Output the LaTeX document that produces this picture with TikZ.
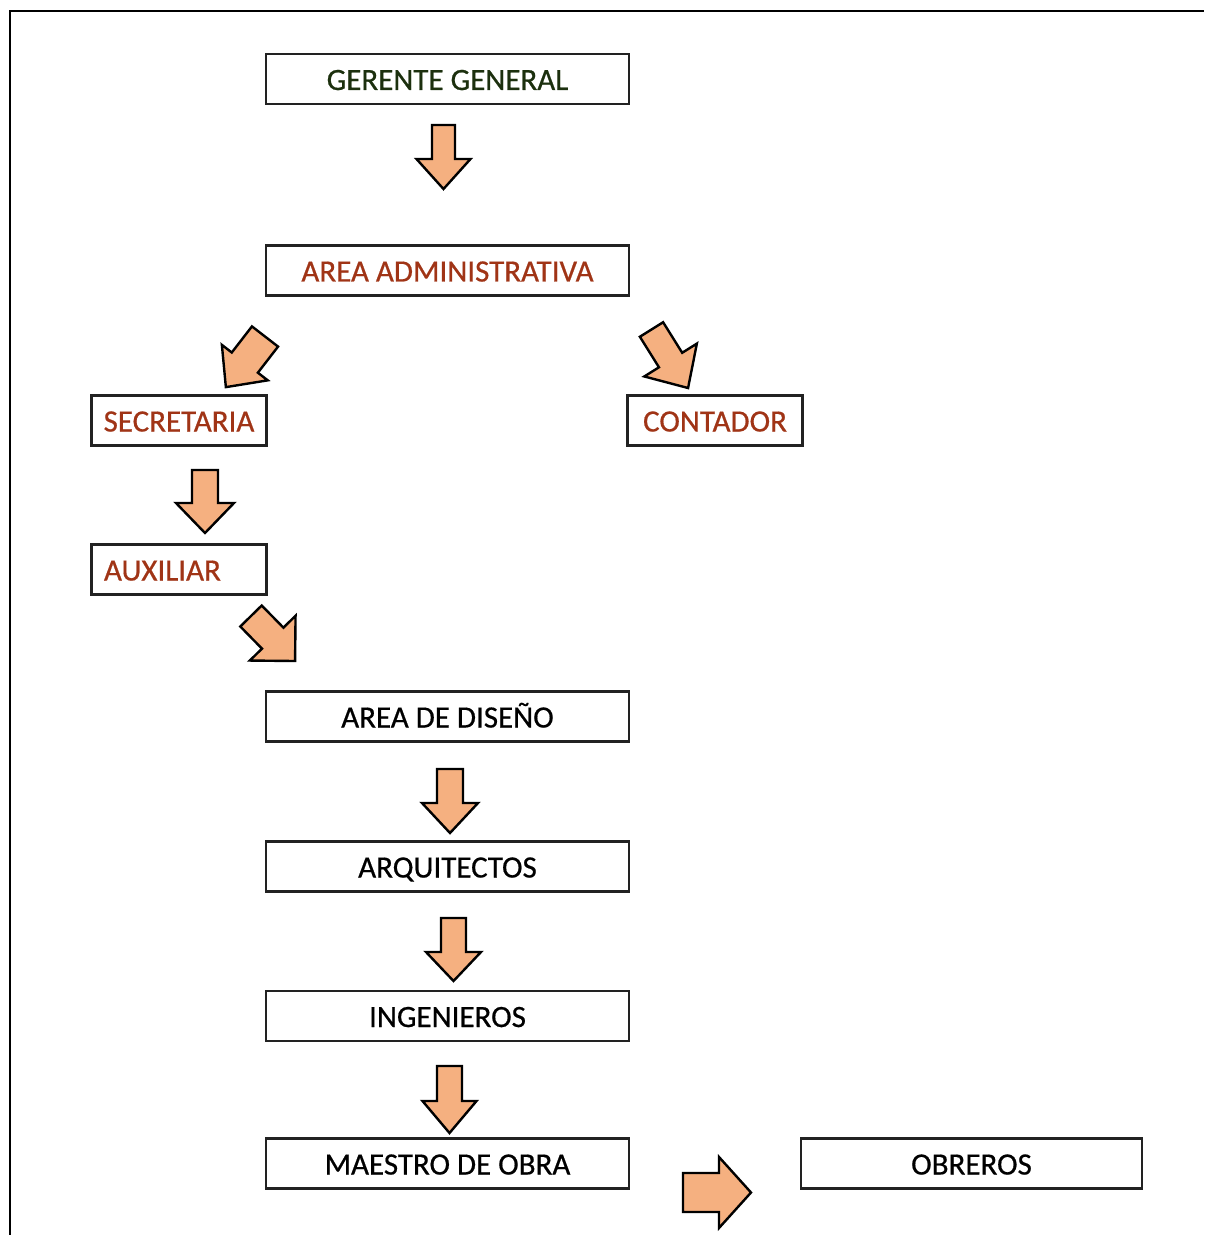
\documentclass[tikz,border=0pt]{standalone}
\usepackage{fontspec}
\setmainfont{Carlito}[FakeBold=0.6]
\definecolor{arrowfill}{RGB}{245,176,128}
\definecolor{redtext}{RGB}{160,52,22}
\definecolor{greentext}{RGB}{28,48,14}
\definecolor{boxline}{RGB}{34,34,34}
\newcommand\blockarrow[7]{%
  \begin{scope}[shift={(#1,#2)}, rotate=#3, x=0.5pt, y=0.5pt]
    \draw[barrowstyle] (0,-#6) -- (#5,-#6) -- (#5,-#7) -- (#4,0) -- (#5,#7) -- (#5,#6) -- (0,#6) -- cycle;
  \end{scope}}
\begin{document}
\begin{tikzpicture}[x=0.5pt, y=-0.5pt,
  orgbox/.style={draw=boxline, line width=1.2pt, fill=white, inner sep=0pt,
    minimum height=25pt, text height=11pt, text depth=0pt,
    font=\fontsize{15.5}{18}\selectfont, text=black},
  wide/.style={orgbox, minimum width=181.5pt},
  small/.style={orgbox, minimum width=87.5pt},
  redt/.style={text=redtext},
  barrowstyle/.style={draw=black, line width=1.2pt, fill=arrowfill, line join=miter}]
\useasboundingbox (0,0) rectangle (1204,1235);
\fill[white] (0,0) rectangle (1204,1235);
% frame (top and left edges)
\draw[line width=1.2pt] (10,1235) -- (10,11) -- (1204,11);

% boxes
\node[wide, text=greentext] (gg) at (447.5,79) {GERENTE GENERAL};
\node[wide, redt] (aa) at (447.5,270.5) {AREA ADMINISTRATIVA};
\node[small, redt] (sec) at (179,420.5) {SECRETARIA};
\node[small, redt] (con) at (715,420.5) {CONTADOR};
\node[small, redt, text width=75pt, align=left, inner xsep=6.25pt] (aux) at (179,569.5) {AUXILIAR};
\node[wide] (dis) at (447.5,716.5) {AREA DE DISEÑO};
\node[wide] (arq) at (447.5,866.5) {ARQUITECTOS};
\node[wide] (ing) at (447.5,1016) {INGENIEROS};
\node[wide] (mae) at (447.5,1163.5) {MAESTRO DE OBRA};
\node[orgbox, minimum width=170.5pt] (obr) at (971.5,1163.5) {OBREROS};

% block arrows: tail x, tail y, angle, length, shaft length, shaft half width, head half width
\blockarrow{443.5}{125}{-90}{64}{34}{11.5}{27}
\blockarrow{265}{336.5}{232.3}{64}{33}{16.5}{29}
\blockarrow{651.5}{329.5}{-58}{69}{36}{13.7}{31}
\blockarrow{205}{470}{-90}{63}{33}{13}{29}
\blockarrow{251}{616}{-45.6}{63}{31}{15}{32}
\blockarrow{450}{769}{-90}{64}{34}{13}{28}
\blockarrow{453.5}{918}{-90}{63}{34}{12.5}{27.5}
\blockarrow{449.5}{1066}{-90}{67}{35}{12.5}{27}
\blockarrow{683}{1192.5}{0}{68}{36}{19.5}{35.5}
\end{tikzpicture}
\end{document}
